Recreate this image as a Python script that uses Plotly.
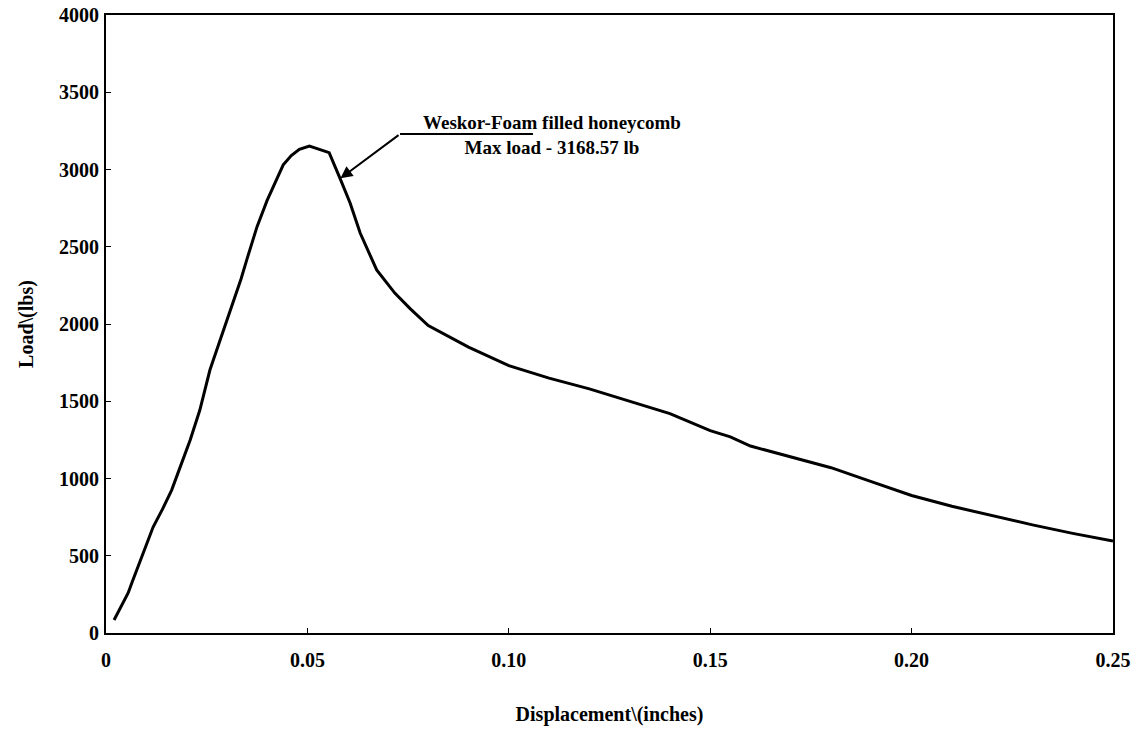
import plotly.graph_objects as go

# Displacement (inches) vs load (lbs)
disp = [0.0020, 0.0040, 0.0055, 0.0065, 0.0076, 0.0095, 0.0117, 0.0140, 0.0163,
        0.0185, 0.0209, 0.0233, 0.0258, 0.0280, 0.0300, 0.0320, 0.0335, 0.0350,
        0.0375, 0.0400, 0.0420, 0.0440, 0.0460, 0.0480, 0.0505, 0.0530, 0.0554,
        0.0581, 0.0606, 0.0631, 0.0672, 0.0717, 0.0755, 0.0800, 0.0850, 0.0900,
        0.1000, 0.1100, 0.1200, 0.1300, 0.1400, 0.1500, 0.1550, 0.1600, 0.1700,
        0.1800, 0.1900, 0.2000, 0.2100, 0.2200, 0.2300, 0.2400, 0.2500]
load = [84, 180, 259, 330, 408, 540, 686, 800, 925,
        1080, 1249, 1443, 1702, 1870, 2026, 2170, 2290, 2420,
        2630, 2800, 2920, 3030, 3090, 3130, 3152, 3130, 3109,
        2943, 2783, 2589, 2350, 2200, 2100, 1990, 1920, 1850,
        1730, 1650, 1580, 1500, 1420, 1310, 1270, 1210, 1140,
        1070, 980, 890, 820, 760, 700, 645, 595]

xTicks = [0, 0.05, 0.10, 0.15, 0.20, 0.25]
xTickText = ["0", "0.05", "0.10", "0.15", "0.20", "0.25"]
yTicks = [0, 500, 1000, 1500, 2000, 2500, 3000, 3500, 4000]

labelX = "Displacement\\(inches)"
labelY = "Load\\(lbs)"
noteText = "Weskor-Foam filled honeycomb<br>Max load - 3168.57 lb"

serif = "Liberation Serif"
noteFont = dict(family=serif, size=19, color="black", weight="bold")

fig = go.Figure()
fig.add_trace(go.Scatter(x=disp, y=load, mode="lines",
                         line=dict(color="black", width=3), showlegend=False))

# annotation: text, underline and arrow
fig.add_annotation(x=0.1107, y=3225, text=noteText, showarrow=False, font=noteFont,
                   align="center")
fig.add_shape(type="line", x0=0.073, x1=0.106, y0=3230, y1=3230,
              line=dict(color="black", width=2))
fig.add_annotation(x=0.0582, y=2943, ax=0.073, ay=3230, axref="x", ayref="y",
                   text="", showarrow=True, arrowhead=2, arrowsize=1.2,
                   arrowwidth=2, arrowcolor="black")

axisFont = dict(family=serif, size=20, color="black", weight="bold")
titleFont = dict(family=serif, size=20, color="black", weight="bold")
fig.update_xaxes(range=[0, 0.25], tickvals=xTicks, ticktext=xTickText,
                 showgrid=False, zeroline=False, showline=True, mirror=True,
                 linecolor="black", linewidth=2, ticks="inside", ticklen=5,
                 tickcolor="black", tickfont=axisFont, ticklabelstandoff=8,
                 automargin=False, ticklabeloverflow="allow",
                 title=dict(text=labelX, font=titleFont, standoff=37))
fig.update_yaxes(range=[0, 4000], tickvals=yTicks,
                 showgrid=False, zeroline=False, showline=True, mirror=True,
                 linecolor="black", linewidth=2, ticks="inside", ticklen=5,
                 tickcolor="black", tickfont=axisFont, ticklabelstandoff=1,
                 automargin=False, ticklabeloverflow="allow",
                 title=dict(text=labelY, font=titleFont, standoff=20))
fig.update_layout(width=1138, height=731, plot_bgcolor="white", paper_bgcolor="white",
                  margin=dict(l=106, r=25, t=15, b=98),
                  font=dict(family=serif, color="black"))

# drop the page's default body margin so the figure sits at the window corner
fig.write_html("out.html", config={"displayModeBar": False},
               post_script="document.body.style.margin='0';")
